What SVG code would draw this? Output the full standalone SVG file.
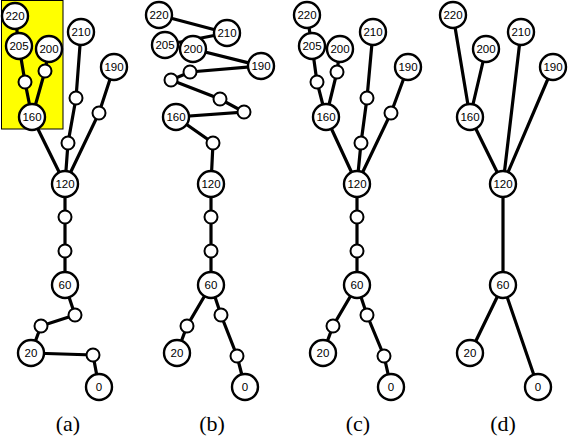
<svg xmlns="http://www.w3.org/2000/svg" width="569" height="436" viewBox="0 0 569 436">
<style>
.e{stroke:#000;stroke-width:3.2;fill:none;stroke-linecap:round}
.n{fill:#fff;stroke:#000;stroke-width:2.4}
.s{fill:#fff;stroke:#000;stroke-width:2}
.t{font-family:"Liberation Sans",Arial,sans-serif;font-size:11.5px;text-anchor:middle;dominant-baseline:central;fill:#000}
.cap{font-family:"Liberation Serif","Times New Roman",serif;font-size:22px;text-anchor:middle;fill:#000}
</style>
<rect x="1.5" y="0.5" width="61.5" height="128.5" fill="#ffff00" stroke="#000" stroke-width="1"/>
<g id="connectors">
<!-- (a) -->
<polyline class="e" points="15,16 19,46 25,82 32,117"/>
<polyline class="e" points="49,49 45,71 32,117"/>
<polyline class="e" points="32,117 65,184"/>
<polyline class="e" points="81,32 76,98 68,143 65,184"/>
<polyline class="e" points="114,67 99,113 65,184"/>
<polyline class="e" points="65,184 65,217 65,251 65,285"/>
<polyline class="e" points="65,285 75,315 41,326 31,353"/>
<polyline class="e" points="31,353 93,355 99,387"/>
<!-- (b) -->
<polyline class="e" points="159,15 227,33 165,45"/>
<polyline class="e" points="193,49 261,66 190,72 171,80 220,99 244,112 176,117 213,143 211,184"/>
<polyline class="e" points="211,184 211,217 211,251 211,285"/>
<polyline class="e" points="211,285 187,326 177,353"/>
<polyline class="e" points="211,285 221,315 237,356 245,387"/>
<!-- (c) -->
<polyline class="e" points="307,15 312,46 317,82 326,117"/>
<polyline class="e" points="340,49 337,72 326,117"/>
<polyline class="e" points="326,117 357,184"/>
<polyline class="e" points="373,32 367,98 361,143 357,184"/>
<polyline class="e" points="408,67 391,113 357,184"/>
<polyline class="e" points="357,184 357,217 357,251 357,285"/>
<polyline class="e" points="357,285 333,326 323,353"/>
<polyline class="e" points="357,285 367,315 384,356 391,387"/>
<!-- (d) -->
<polyline class="e" points="453,15 470,117"/>
<polyline class="e" points="486,49 470,117"/>
<polyline class="e" points="470,117 503,184"/>
<polyline class="e" points="521,32 503,184"/>
<polyline class="e" points="553,67 503,184"/>
<polyline class="e" points="503,184 503,285"/>
<polyline class="e" points="503,285 470,353"/>
<polyline class="e" points="503,285 538,387"/>
</g>
<!-- panel (a) nodes -->
<g id="a220"><circle class="n" cx="15" cy="16" r="13"/><text class="t" x="15" y="16">220</text></g>
<g id="a205"><circle class="n" cx="19" cy="46" r="13"/><text class="t" x="19" y="46">205</text></g>
<g id="a200"><circle class="n" cx="49" cy="49" r="13"/><text class="t" x="49" y="49">200</text></g>
<g id="a210"><circle class="n" cx="81" cy="32" r="13"/><text class="t" x="81" y="32">210</text></g>
<g id="a190"><circle class="n" cx="114" cy="67" r="13"/><text class="t" x="114" y="67">190</text></g>
<g id="a160"><circle class="n" cx="32" cy="117" r="13"/><text class="t" x="32" y="117">160</text></g>
<g id="a120"><circle class="n" cx="65" cy="184" r="13"/><text class="t" x="65" y="184">120</text></g>
<g id="a60"><circle class="n" cx="65" cy="285" r="13"/><text class="t" x="65" y="285">60</text></g>
<g id="a20"><circle class="n" cx="31" cy="353" r="13"/><text class="t" x="31" y="353">20</text></g>
<g id="a0"><circle class="n" cx="99" cy="387" r="13"/><text class="t" x="99" y="387">0</text></g>
<g id="a_s1"><circle class="s" cx="25" cy="82" r="6.5"/></g>
<g id="a_s2"><circle class="s" cx="45" cy="71" r="6.5"/></g>
<g id="a_s3"><circle class="s" cx="76" cy="98" r="6.5"/></g>
<g id="a_s4"><circle class="s" cx="68" cy="143" r="6.5"/></g>
<g id="a_s5"><circle class="s" cx="99" cy="113" r="6.5"/></g>
<g id="a_s6"><circle class="s" cx="65" cy="217" r="6.5"/></g>
<g id="a_s7"><circle class="s" cx="65" cy="251" r="6.5"/></g>
<g id="a_s8"><circle class="s" cx="75" cy="315" r="6.5"/></g>
<g id="a_s9"><circle class="s" cx="41" cy="326" r="6.5"/></g>
<g id="a_s10"><circle class="s" cx="93" cy="355" r="6.5"/></g>
<!-- panel (b) nodes -->
<g id="b220"><circle class="n" cx="159" cy="15" r="13"/><text class="t" x="159" y="15">220</text></g>
<g id="b210"><circle class="n" cx="227" cy="33" r="13"/><text class="t" x="227" y="33">210</text></g>
<g id="b205"><circle class="n" cx="165" cy="45" r="13"/><text class="t" x="165" y="45">205</text></g>
<g id="b200"><circle class="n" cx="193" cy="49" r="13"/><text class="t" x="193" y="49">200</text></g>
<g id="b190"><circle class="n" cx="261" cy="66" r="13"/><text class="t" x="261" y="66">190</text></g>
<g id="b160"><circle class="n" cx="176" cy="117" r="13"/><text class="t" x="176" y="117">160</text></g>
<g id="b120"><circle class="n" cx="211" cy="184" r="13"/><text class="t" x="211" y="184">120</text></g>
<g id="b60"><circle class="n" cx="211" cy="285" r="13"/><text class="t" x="211" y="285">60</text></g>
<g id="b20"><circle class="n" cx="177" cy="353" r="13"/><text class="t" x="177" y="353">20</text></g>
<g id="b0"><circle class="n" cx="245" cy="387" r="13"/><text class="t" x="245" y="387">0</text></g>
<g id="b_s1"><circle class="s" cx="190" cy="72" r="6.5"/></g>
<g id="b_s2"><circle class="s" cx="171" cy="80" r="6.5"/></g>
<g id="b_s3"><circle class="s" cx="220" cy="99" r="6.5"/></g>
<g id="b_s4"><circle class="s" cx="244" cy="112" r="6.5"/></g>
<g id="b_s5"><circle class="s" cx="213" cy="143" r="6.5"/></g>
<g id="b_s6"><circle class="s" cx="211" cy="217" r="6.5"/></g>
<g id="b_s7"><circle class="s" cx="211" cy="251" r="6.5"/></g>
<g id="b_s8"><circle class="s" cx="187" cy="326" r="6.5"/></g>
<g id="b_s9"><circle class="s" cx="221" cy="315" r="6.5"/></g>
<g id="b_s10"><circle class="s" cx="237" cy="356" r="6.5"/></g>
<!-- panel (c) nodes -->
<g id="c220"><circle class="n" cx="307" cy="15" r="13"/><text class="t" x="307" y="15">220</text></g>
<g id="c205"><circle class="n" cx="312" cy="46" r="13"/><text class="t" x="312" y="46">205</text></g>
<g id="c200"><circle class="n" cx="340" cy="49" r="13"/><text class="t" x="340" y="49">200</text></g>
<g id="c210"><circle class="n" cx="373" cy="32" r="13"/><text class="t" x="373" y="32">210</text></g>
<g id="c190"><circle class="n" cx="408" cy="67" r="13"/><text class="t" x="408" y="67">190</text></g>
<g id="c160"><circle class="n" cx="326" cy="117" r="13"/><text class="t" x="326" y="117">160</text></g>
<g id="c120"><circle class="n" cx="357" cy="184" r="13"/><text class="t" x="357" y="184">120</text></g>
<g id="c60"><circle class="n" cx="357" cy="285" r="13"/><text class="t" x="357" y="285">60</text></g>
<g id="c20"><circle class="n" cx="323" cy="353" r="13"/><text class="t" x="323" y="353">20</text></g>
<g id="c0"><circle class="n" cx="391" cy="387" r="13"/><text class="t" x="391" y="387">0</text></g>
<g id="c_s1"><circle class="s" cx="317" cy="82" r="6.5"/></g>
<g id="c_s2"><circle class="s" cx="337" cy="72" r="6.5"/></g>
<g id="c_s3"><circle class="s" cx="367" cy="98" r="6.5"/></g>
<g id="c_s4"><circle class="s" cx="361" cy="143" r="6.5"/></g>
<g id="c_s5"><circle class="s" cx="391" cy="113" r="6.5"/></g>
<g id="c_s6"><circle class="s" cx="357" cy="217" r="6.5"/></g>
<g id="c_s7"><circle class="s" cx="357" cy="251" r="6.5"/></g>
<g id="c_s8"><circle class="s" cx="333" cy="326" r="6.5"/></g>
<g id="c_s9"><circle class="s" cx="367" cy="315" r="6.5"/></g>
<g id="c_s10"><circle class="s" cx="384" cy="356" r="6.5"/></g>
<!-- panel (d) nodes -->
<g id="d220"><circle class="n" cx="453" cy="15" r="13"/><text class="t" x="453" y="15">220</text></g>
<g id="d200"><circle class="n" cx="486" cy="49" r="13"/><text class="t" x="486" y="49">200</text></g>
<g id="d210"><circle class="n" cx="521" cy="32" r="13"/><text class="t" x="521" y="32">210</text></g>
<g id="d190"><circle class="n" cx="553" cy="67" r="13"/><text class="t" x="553" y="67">190</text></g>
<g id="d160"><circle class="n" cx="470" cy="117" r="13"/><text class="t" x="470" y="117">160</text></g>
<g id="d120"><circle class="n" cx="503" cy="184" r="13"/><text class="t" x="503" y="184">120</text></g>
<g id="d60"><circle class="n" cx="503" cy="285" r="13"/><text class="t" x="503" y="285">60</text></g>
<g id="d20"><circle class="n" cx="470" cy="353" r="13"/><text class="t" x="470" y="353">20</text></g>
<g id="d0"><circle class="n" cx="538" cy="387" r="13"/><text class="t" x="538" y="387">0</text></g>
<!-- captions -->
<text class="cap" x="68" y="431">(a)</text>
<text class="cap" x="212" y="431">(b)</text>
<text class="cap" x="358" y="431">(c)</text>
<text class="cap" x="503" y="431">(d)</text>
</svg>
